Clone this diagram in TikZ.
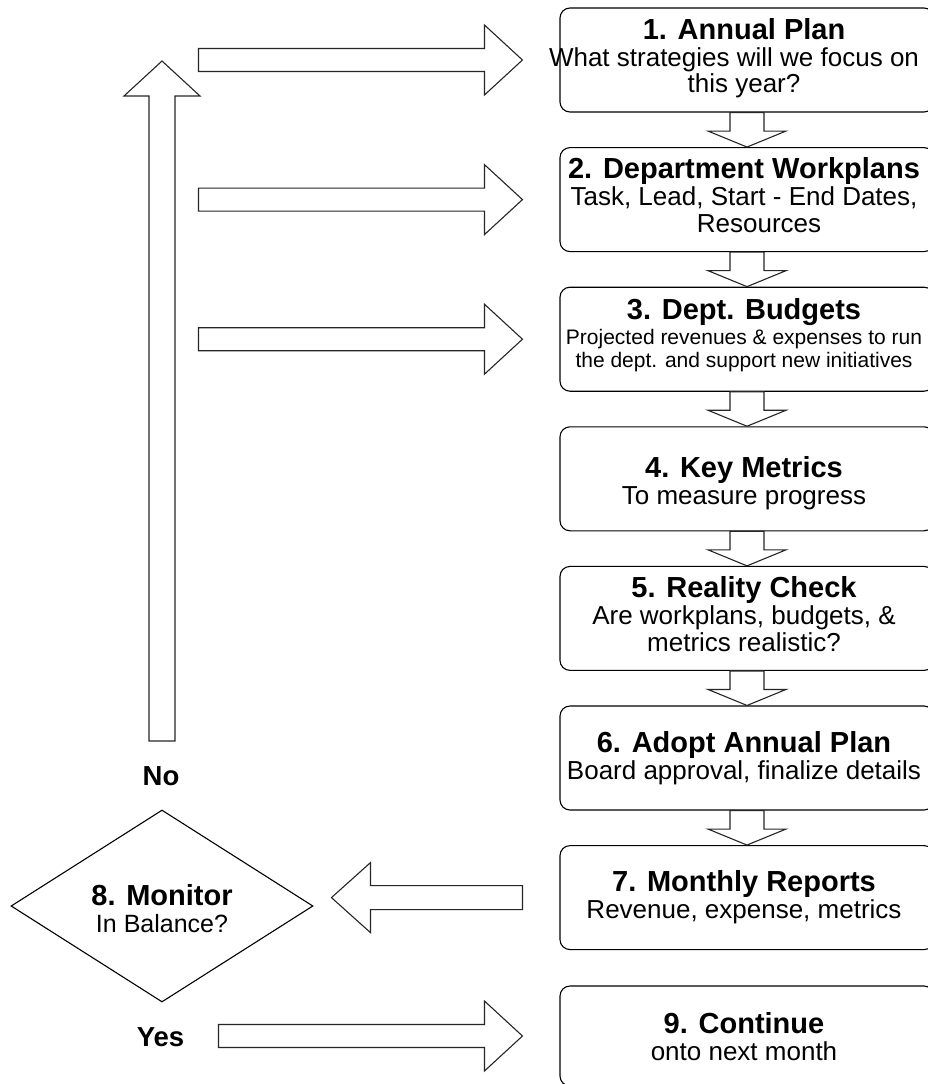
\documentclass[tikz,border=0pt]{standalone}
\usepackage{fontspec}
\setmainfont{Liberation Sans}
\usetikzlibrary{calc,shapes.geometric}
\newcommand\ttlfont{\fontsize{29}{30}\selectfont\bfseries}
\newcommand\topstrut{\rule{0pt}{22pt}}
\newcommand\botstrut{\rule[-8pt]{0pt}{8pt}}
% block arrow: #1 tail, #2 tip, #3 half shaft width, #4 half head width, #5 head length
\newcommand\blockarrow[5]{%
  \coordinate (bab) at ($(#2)!#5!(#1)$);
  \draw[barrow] ($(#1)!#3!90:(#2)$) -- ($(bab)!#3!90:(#2)$) -- ($(bab)!#4!90:(#2)$)
    -- (#2) -- ($(bab)!#4!-90:(#2)$) -- ($(bab)!#3!-90:(#2)$) -- ($(#1)!#3!-90:(#2)$) -- cycle;}
\tikzset{
  procbox/.style={draw=black, line width=1.1pt, rounded corners=10pt,
    minimum width=374pt, minimum height=104pt, inner sep=0pt},
  boxtext/.style={align=center, inner sep=0pt, text=black,
    font=\fontsize{26}{26.5}\selectfont},
  smalltext/.style={boxtext, font=\fontsize{21}{23}\selectfont},
  decision/.style={draw=black, line width=1.1pt, diamond,
    minimum width=302pt, minimum height=192pt, inner sep=0pt},
  answer/.style={inner sep=0pt, font=\fontsize{27.5}{30}\selectfont\bfseries},
  barrow/.style={draw=black!85, line width=1.1pt, fill=white, line join=miter},
}
\begin{document}
\begin{tikzpicture}[x=1pt,y=-1pt]
\useasboundingbox (0,0) rectangle (927,1084);
\fill[white] (0,0) rectangle (927,1084);

% process boxes
\node[procbox] (b1) at (747,60) {};
\node[procbox] (b2) at (747,199.6) {};
\node[procbox] (b3) at (747,339.2) {};
\node[procbox] (b4) at (747,478.8) {};
\node[procbox] (b5) at (747,618.4) {};
\node[procbox] (b6) at (747,758) {};
\node[procbox] (b7) at (747,897.6) {};
\node[procbox, minimum height=100pt] (b9) at (747,1036) {};

% box texts
\node[boxtext] (t1) at ($(b1.center)+(-3,-1)$)
  {{\ttlfont\topstrut 1. Annual Plan}\\[0.5pt]\hspace*{-20pt}What strategies will we focus on\\this year?\botstrut};
\node[boxtext] (t2) at ($(b2.center)+(-3,-1)$)
  {{\ttlfont\topstrut 2. Department Workplans}\\[0.5pt]Task, Lead, Start - End Dates,\\\hspace*{30pt}Resources\botstrut};
\node[smalltext] (t3) at ($(b3.center)+(-3,-3)$)
  {{\ttlfont\topstrut 3. Dept. Budgets}\\[2pt]Projected revenues \& expenses to run\\the dept. and support new initiatives\botstrut};
\node[boxtext] (t4) at ($(b4.center)+(-3,5)$)
  {{\ttlfont\topstrut 4. Key Metrics}\\[0.5pt]To measure progress\botstrut};
\node[boxtext] (t5) at ($(b5.center)+(-3,-1)$)
  {{\ttlfont\topstrut 5. Reality Check}\\[0.5pt]Are workplans, budgets, \&\\metrics realistic?\botstrut};
\node[boxtext] (t6) at ($(b6.center)+(-3,1)$)
  {{\ttlfont\topstrut 6. Adopt Annual Plan}\\[0.5pt]Board approval, finalize details\botstrut};
\node[boxtext] (t7) at ($(b7.center)+(-3,0)$)
  {{\ttlfont\topstrut 7. Monthly Reports}\\[0.5pt]Revenue, expense, metrics\botstrut};
\node[boxtext] (t9) at ($(b9.center)+(-3,4)$)
  {{\ttlfont\topstrut 9. Continue}\\[0.5pt]onto next month\botstrut};

% decision
\node[decision] (d8) at (162,906) {};
\node[boxtext, font=\fontsize{25}{26}\selectfont] (t8) at ($(d8.center)+(0,6)$)
  {{\ttlfont\topstrut 8. Monitor}\\[1pt]In Balance?\botstrut};
\node[answer] (no) at (161,776) {No};
\node[answer] (yes) at (160.5,1037) {Yes};

% down arrows between boxes
\blockarrow{b1.south}{b2.north}{17pt}{39pt}{16pt}
\blockarrow{b2.south}{b3.north}{17pt}{39pt}{16pt}
\blockarrow{b3.south}{b4.north}{17pt}{39pt}{16pt}
\blockarrow{b4.south}{b5.north}{17pt}{39pt}{16pt}
\blockarrow{b5.south}{b6.north}{17pt}{39pt}{16pt}
\blockarrow{b6.south}{b7.north}{17pt}{39pt}{16pt}

% feedback arrows
\coordinate (u0) at (162,741);
\coordinate (u1) at (162,61);
\blockarrow{u0}{u1}{13pt}{38pt}{35pt}
\coordinate (r1a) at ($(b1.west)+(-361,0)$);
\coordinate (r1b) at ($(b1.west)+(-37,0)$);
\coordinate (r2a) at ($(b2.west)+(-361,0)$);
\coordinate (r2b) at ($(b2.west)+(-37,0)$);
\coordinate (r3a) at ($(b3.west)+(-361,0)$);
\coordinate (r3b) at ($(b3.west)+(-37,0)$);
\blockarrow{r1a}{r1b}{11.5pt}{35pt}{38pt}
\blockarrow{r2a}{r2b}{11.5pt}{35pt}{38pt}
\blockarrow{r3a}{r3b}{11.5pt}{35pt}{38pt}

% monthly reports -> monitor
\coordinate (l7a) at ($(b7.west)+(-37,0)$);
\coordinate (l7b) at ($(b7.west)+(-228,0)$);
\blockarrow{l7a}{l7b}{12pt}{35pt}{39pt}

% yes -> continue
\coordinate (y9a) at ($(b9.west)+(-341,0)$);
\coordinate (y9b) at ($(b9.west)+(-37,0)$);
\blockarrow{y9a}{y9b}{11.5pt}{35pt}{38pt}
\end{tikzpicture}
\end{document}
